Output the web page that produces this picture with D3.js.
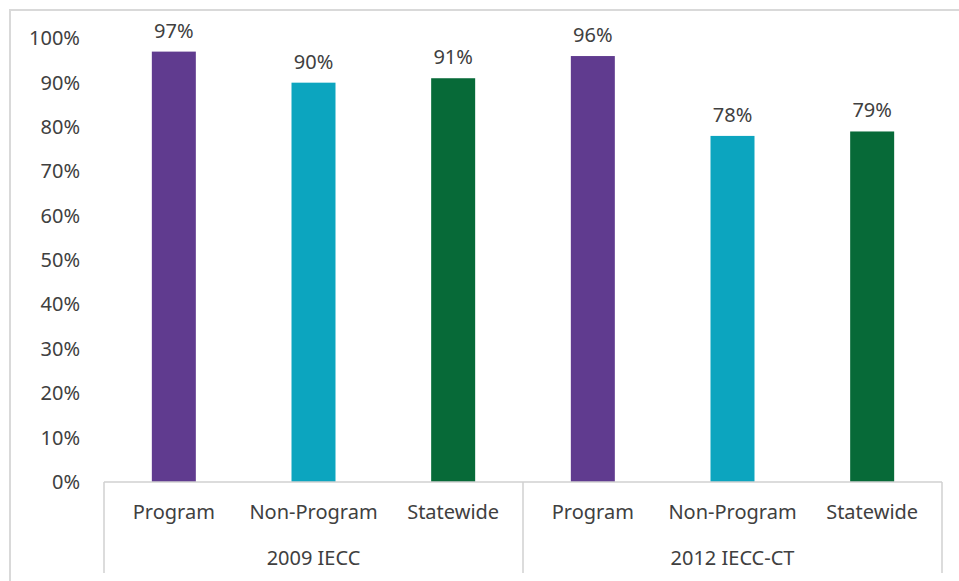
<!DOCTYPE html>
<html>
<head>
<meta charset="utf-8">
<script src="https://cdn.jsdelivr.net/npm/d3@7"></script>
<style>
  html, body { margin: 0; padding: 0; background: #ffffff; }
  svg { display: block; }
  text { font-family: "Noto Sans", "Open Sans", sans-serif; fill: #404040; }
</style>
</head>
<body>
<svg id="chart" width="959" height="581"></svg>
<script>
// Code versions (outer axis groups) and participant categories (inner bars)
const groups = ["2009 IECC", "2012 IECC-CT"];
const categories = ["Program", "Non-Program", "Statewide"];
// Share meeting code, per group, in category order
const values2009 = [0.97, 0.90, 0.91];
const values2012 = [0.96, 0.78, 0.79];
const seriesValues = [values2009, values2012];
const yTicks = [0, 0.1, 0.2, 0.3, 0.4, 0.5, 0.6, 0.7, 0.8, 0.9, 1.0];
const categoryColors = ["#603b8f", "#0ca5bf", "#076a38"];

const rows = [];
groups.forEach((g, gi) => {
  categories.forEach((c, ci) => {
    rows.push({ group: g, category: c, key: g + "|" + c, value: seriesValues[gi][ci], ci });
  });
});

const svg = d3.select("#chart");

// outer chart frame
svg.append("path")
  .attr("d", "M10,581 V10 H959")
  .attr("fill", "none")
  .attr("stroke", "#d9d9d9")
  .attr("stroke-width", 2);

const plot = { left: 104, right: 942, top: 38.3, bottom: 482 };

const xGroup = d3.scaleBand().domain(groups).range([plot.left, plot.right]).padding(0);
const xBand = d3.scaleBand().domain(rows.map(d => d.key)).range([plot.left, plot.right]).paddingInner(0.685).paddingOuter(0.3425);
const y = d3.scaleLinear().domain([0, 1]).range([plot.bottom, plot.top]);
const pct = d3.format(".0%");

// y axis labels (no axis line)
const yAxis = svg.append("g")
  .attr("transform", `translate(${plot.left},0)`)
  .call(d3.axisLeft(y).tickValues(yTicks).tickFormat(pct).tickSize(0).tickPadding(24));
yAxis.select(".domain").remove();
yAxis.selectAll("text")
  .attr("font-size", 20)
  .attr("font-family", "\"Noto Sans\", sans-serif")
  .attr("fill", "#404040");

// bars
svg.append("g").selectAll("rect")
  .data(rows)
  .join("rect")
  .attr("x", d => xBand(d.key))
  .attr("width", xBand.bandwidth())
  .attr("y", d => y(d.value))
  .attr("height", d => y(0) - y(d.value))
  .attr("fill", d => categoryColors[d.ci]);

// value labels
svg.append("g").selectAll("text")
  .data(rows)
  .join("text")
  .attr("x", d => xBand(d.key) + xBand.bandwidth() / 2)
  .attr("y", d => y(d.value) - 14)
  .attr("text-anchor", "middle")
  .attr("font-size", 20)
  .text(d => pct(d.value));

// category axis: baseline plus group separators
const axisColor = "#d0d0d0";
const sepBottom = 573;
svg.append("line")
  .attr("x1", plot.left).attr("x2", plot.right)
  .attr("y1", plot.bottom).attr("y2", plot.bottom)
  .attr("stroke", axisColor).attr("stroke-width", 1.5);
const sepX = [plot.left].concat(groups.map(g => xGroup(g) + xGroup.bandwidth()));
svg.append("g").selectAll("line")
  .data(sepX)
  .join("line")
  .attr("x1", d => d).attr("x2", d => d)
  .attr("y1", plot.bottom).attr("y2", sepBottom)
  .attr("stroke", axisColor).attr("stroke-width", 1.5);

// inner category labels
svg.append("g").selectAll("text")
  .data(rows)
  .join("text")
  .attr("x", d => xBand(d.key) + xBand.bandwidth() / 2)
  .attr("y", 519)
  .attr("text-anchor", "middle")
  .attr("font-size", 20)
  .text(d => d.category);

// outer group labels
svg.append("g").selectAll("text")
  .data(groups)
  .join("text")
  .attr("x", d => xGroup(d) + xGroup.bandwidth() / 2)
  .attr("y", 565)
  .attr("text-anchor", "middle")
  .attr("font-size", 20)
  .text(d => d);
</script>
</body>
</html>
